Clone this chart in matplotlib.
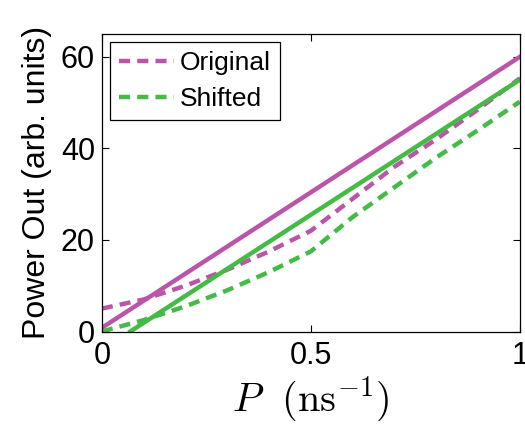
import matplotlib

matplotlib.use("Agg")
import matplotlib.pyplot as plt
import numpy as np

plt.rcParams["font.family"] = ["Liberation Sans", "DejaVu Sans"]
plt.rcParams["mathtext.fontset"] = "cm"

MAG = "#bb55aa"
GRN = "#44bb44"

# solid reference lines
orig_fit_x = [0.0, 1.0]
orig_fit_y = [0.8, 60.0]
shift_fit_x = [0.068, 1.0]
shift_fit_y = [0.0, 55.0]

# dashed simulated curves
p = [0.0, 0.1, 0.2, 0.3, 0.4, 0.5, 0.6, 0.7, 0.8, 0.9, 1.0]
orig_y = [5.0, 7.0, 10.0, 13.5, 17.5, 22.0, 29.0, 36.0, 42.0, 48.5, 55.3]
shift_y = [0.0, 2.5, 5.5, 9.0, 13.0, 17.5, 25.0, 31.5, 38.0, 44.0, 50.2]

fig = plt.figure(figsize=(5.25, 4.25), dpi=100)
ax = fig.add_axes([0.194, 0.22, 0.796, 0.70])

dash = (2.5, 1.6)
ax.plot(p, orig_y, color=MAG, lw=3.2, dashes=dash, label="Original")
ax.plot(p, shift_y, color=GRN, lw=3.2, dashes=dash, label="Shifted")
ax.plot(orig_fit_x, orig_fit_y, color=MAG, lw=3.2)
ax.plot(shift_fit_x, shift_fit_y, color=GRN, lw=3.2)

ax.set_xlim(0, 1)
ax.set_ylim(0, 65)
ax.set_xticks([0, 0.5, 1])
ax.set_xticklabels(["0", "0.5", "1"])
ax.set_yticks([0, 20, 40, 60])
ax.tick_params(direction="in", top=True, right=True, labelsize=22, length=5)
ax.tick_params(axis="x", pad=7)
ax.tick_params(axis="y", pad=5)
for s in ax.spines.values():
    s.set_linewidth(0.9)

ax.set_ylabel("Power Out (arb. units)", fontsize=23, labelpad=6)
ax.set_xlabel(r"$P\ \ (\mathrm{ns}^{-1})$", fontsize=29, labelpad=2)

leg = ax.legend(loc="upper left", fontsize=19, fancybox=False, edgecolor="black",
                handlelength=2.1, handletextpad=0.2, borderpad=0.35, labelspacing=0.45,
                borderaxespad=0.3, framealpha=1)
leg.get_frame().set_linewidth(0.9)

fig.savefig("out.png", dpi=100)
